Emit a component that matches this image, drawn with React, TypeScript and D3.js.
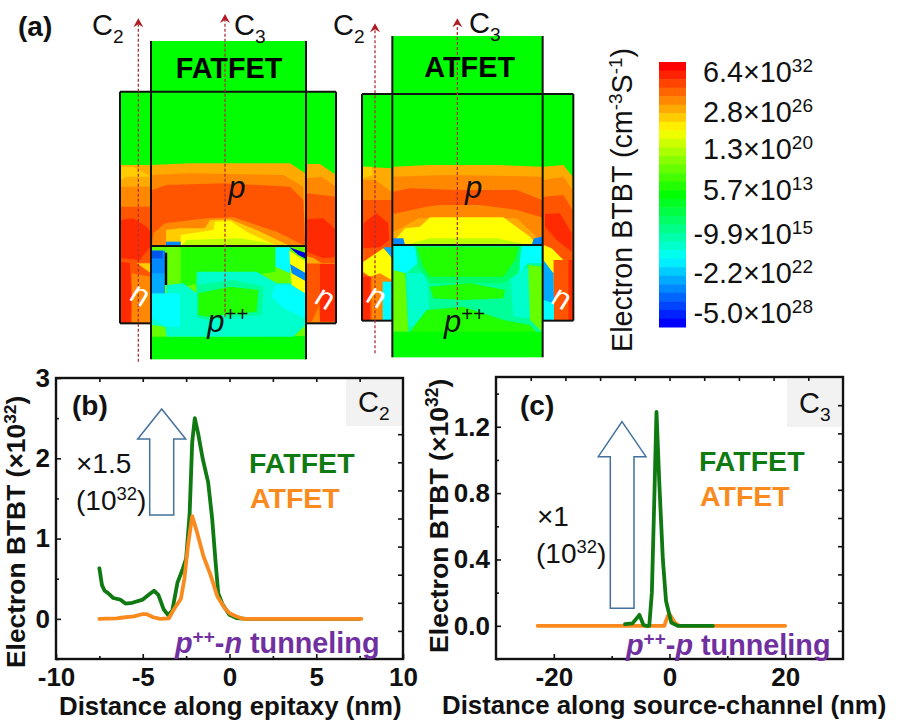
import { useEffect, useRef } from "react";
import * as d3 from "d3";

type Pt = [number, number];
type Part = { t: string; sup?: boolean; sub?: boolean; italic?: boolean };

// line cuts, x in nm, y in 1e32
const epitaxyFat: Pt[] = [[-7.5,0.63],[-7.35,0.42],[-7.2,0.35],[-7,0.32],[-6.7,0.26],[-6.3,0.24],[-6,0.19],[-5.6,0.2],[-5,0.24],[-4.6,0.31],[-4.35,0.35],[-4.1,0.3],[-3.8,0.12],[-3.55,0.05],[-3.3,0.1],[-3,0.45],[-2.7,0.62],[-2.5,0.75],[-2.3,1.3],[-2.15,2.2],[-2,2.5],[-1.8,2.3],[-1.55,2],[-1.23,1.7],[-1,1.25],[-0.8,0.7],[-0.65,0.32],[-0.4,0.18],[0,0.05],[0.4,0.01],[1,0],[7.5,0]];
const epitaxyAt: Pt[] = [[-7.5,0],[-6.5,0.005],[-6,0.02],[-5.5,0.03],[-5,0.06],[-4.8,0.06],[-4.4,0.02],[-4,0],[-3.5,0.005],[-3.2,0.12],[-2.8,0.25],[-2.6,0.5],[-2.4,0.9],[-2.15,1.28],[-1.9,1.1],[-1.5,0.78],[-1.1,0.55],[-0.7,0.28],[-0.3,0.14],[0,0.07],[0.4,0.03],[0.8,0],[7.6,0]];
const channelFat: Pt[] = [[-7.7,0.01],[-6.4,0.015],[-5.2,0.066],[-4.5,0.005],[-4,0],[-3.5,0],[-3.05,0.2],[-2.6,0.8],[-2.25,1.29],[-1.75,0.85],[-1.15,0.4],[-0.6,0.15],[0.3,0.02],[1.4,0],[7.5,0]];
const channelAt: Pt[] = [[-22.8,0],[-0.9,0],[-0.3,0.06],[0.1,0.065],[0.9,0.02],[1.7,0],[20,0]];

const colorbarLabels = [
  { m: "6.4", e: "32" },
  { m: "2.8", e: "26" },
  { m: "1.3", e: "20" },
  { m: "5.7", e: "13" },
  { m: "-9.9", e: "15" },
  { m: "-2.2", e: "22" },
  { m: "-5.0", e: "28" },
];
const colorbarBaselines = [82, 122, 159, 200, 244, 283, 323];

const C = {
  green: "#00ff00", lgreen: "#22ff00", lime: "#66ff00", ygreen: "#bbff00", yellow: "#ffff00",
  gold: "#ffcc00", amber: "#ffaa00", orange: "#ff8800", dorange: "#ff5500", red: "#ff2a00",
  mint: "#00ff66", spring: "#00ff99", teal: "#00ffcc", cyan: "#00ffff", sky: "#00aaff", azure: "#0088ff", blue: "#0055ee", navy: "#0000dd",
};

// contour patches, painted in order, in device units
const fatPatches: [string, Pt[]][] = [
  [C.amber, [[186,465],[300,460],[600,460],[646,490],[646,708],[186,708]]],
  [C.orange, [[186,495],[300,490],[580,495],[640,530],[646,708],[186,708]]],
  [C.dorange, [[186,540],[230,525],[400,520],[600,530],[640,570],[646,708],[186,708]]],
  [C.orange, [[186,708],[190,670],[225,640],[350,625],[430,622],[560,665],[646,708]]],
  [C.gold, [[228,708],[228,660],[270,655],[345,655],[360,630],[420,628],[500,660],[600,708]]],
  [C.yellow, [[272,708],[272,675],[370,660],[375,635],[420,632],[470,665],[560,708]]],
  [C.ygreen, [[275,708],[290,690],[450,685],[540,700],[560,708]]],
  [C.azure, [[228,695],[272,695],[272,708],[228,708]]],
  // lower part of the source
  [C.lime, [[186,710],[646,710],[646,978],[230,980],[186,980]]],
  [C.lgreen, [[272,712],[556,712],[556,785],[272,830]]],
  [C.teal, [[186,850],[230,850],[230,825],[280,820],[320,850],[320,785],[500,785],[560,820],[600,820],[646,850],[646,945],[610,980],[230,980],[225,950],[186,945]]],
  [C.spring, [[320,825],[430,810],[520,830],[515,915],[350,930],[320,920]]],
  [C.lgreen, [[325,850],[420,830],[505,840],[500,905],[350,920],[325,915]]],
  [C.cyan, [[186,850],[270,850],[270,950],[230,950],[186,925]]],
  [C.cyan, [[556,825],[600,825],[646,850],[646,925],[580,895],[545,860]]],
  [C.cyan, [[556,712],[600,712],[600,790],[556,770]]],
  [C.sky, [[186,785],[225,785],[225,850],[186,850]]],
  [C.azure, [[186,722],[225,722],[225,790],[186,790]]],
  [C.blue, [[186,722],[218,722],[218,745],[186,745]]],
  [C.yellow, [[598,722],[645,752],[645,850],[605,825],[600,760]]],
  [C.azure, [[600,762],[645,788],[645,812],[605,790]]],
  [C.navy, [[598,712],[645,728],[667,730],[650,748],[625,735]]],
  // left flank
  [C.amber, [[92,465],[183,465],[183,940],[92,940]]],
  [C.gold, [[92,470],[130,470],[183,500],[110,500],[92,510]]],
  [C.orange, [[92,530],[140,530],[183,530],[183,940],[92,940]]],
  [C.dorange, [[92,590],[183,590],[183,940],[92,940]]],
  [C.red, [[92,630],[130,625],[170,650],[183,665],[183,708],[150,750],[92,745]]],
  [C.gold, [[140,760],[183,760],[183,790]]],
  [C.orange, [[125,790],[183,800],[183,940],[125,940]]],
  [C.red, [[92,755],[120,760],[125,860],[122,940],[92,940]]],
  // right flank
  [C.amber, [[650,462],[690,462],[738,495],[738,940],[650,940]]],
  [C.orange, [[650,505],[695,500],[738,530],[738,940],[650,940]]],
  [C.dorange, [[650,550],[738,560],[738,940],[650,940]]],
  [C.red, [[650,628],[700,625],[738,660],[738,740],[700,745],[650,725]]],
  [C.amber, [[650,738],[672,745],[695,760],[650,760]]],
  [C.orange, [[650,760],[738,760],[738,940],[650,940]]],
  [C.red, [[685,762],[738,762],[738,935],[690,935]]],
  [C.dorange, [[650,762],[690,762],[690,880],[665,935],[650,935]]],
];

const atPatches: [string, Pt[]][] = [
  [C.amber, [[190,470],[300,465],[500,465],[636,470],[636,705],[190,705]]],
  [C.orange, [[190,500],[350,495],[636,500],[636,705],[190,705]]],
  [C.dorange, [[190,545],[240,535],[380,540],[560,540],[636,570],[636,622],[560,600],[450,585],[330,585],[290,590],[190,612]]],
  [C.amber, [[190,665],[220,650],[265,625],[560,625],[620,680],[636,705],[190,705]]],
  [C.yellow, [[195,690],[225,655],[270,650],[300,622],[520,622],[600,680],[620,705],[190,705]]],
  [C.ygreen, [[225,705],[300,685],[500,685],[600,705]]],
  [C.azure, [[190,685],[220,685],[225,705],[190,705]]],
  [C.azure, [[605,705],[612,685],[636,680],[636,705]]],
  // source
  [C.spring, [[190,708],[636,708],[636,968],[190,968]]],
  [C.teal, [[230,790],[290,790],[300,940],[235,950]]],
  [C.teal, [[540,790],[600,770],[600,925],[550,920]]],
  [C.lime, [[190,780],[225,785],[235,965],[190,965]]],
  [C.lime, [[595,765],[636,770],[636,965],[600,930]]],
  [C.cyan, [[190,708],[258,708],[262,760],[228,790],[190,780]]],
  [C.cyan, [[570,708],[636,708],[636,760],[590,760],[570,790]]],
  [C.mint, [[255,708],[575,708],[565,790],[520,820],[300,820],[265,770]]],
  [C.lgreen, [[262,712],[565,712],[555,750],[520,800],[300,800],[280,770]]],
  [C.lgreen, [[300,830],[420,820],[525,840],[520,865],[400,870],[310,865]]],
  [C.lgreen, [[290,900],[400,890],[520,930],[600,945],[620,968],[240,968],[255,945]]],
  [C.green, [[190,965],[636,965],[636,1040],[190,1040]]],
  // left flank
  [C.amber, [[98,470],[185,475],[185,930],[98,930]]],
  [C.gold, [[98,470],[125,470],[130,495],[98,505]]],
  [C.orange, [[98,510],[135,510],[185,545],[185,930],[98,930]]],
  [C.dorange, [[98,570],[185,570],[185,720],[100,760]]],
  [C.red, [[100,640],[140,610],[175,640],[178,690],[150,712],[100,715]]],
  [C.yellow, [[100,755],[160,715],[185,740],[185,810],[150,790],[120,800],[100,785]]],
  [C.sky, [[160,712],[186,712],[186,745]]],
  [C.dorange, [[98,790],[155,815],[155,930],[98,930]]],
  [C.orange, [[125,800],[155,815],[155,930],[125,930]]],
  [C.red, [[98,800],[122,800],[120,930],[98,930]]],
  [C.cyan, [[158,815],[185,815],[185,930],[158,930]]],
  // right flank
  [C.amber, [[640,470],[700,465],[728,500],[728,930],[640,930]]],
  [C.orange, [[640,510],[700,500],[728,540],[728,930],[640,930]]],
  [C.dorange, [[640,560],[700,555],[728,600],[728,750],[640,750]]],
  [C.red, [[645,612],[690,610],[725,670],[725,725],[680,690],[645,650]]],
  [C.yellow, [[640,705],[665,715],[700,750],[670,750],[670,790],[640,760]]],
  [C.sky, [[640,750],[670,790],[672,880],[640,880]]],
  [C.cyan, [[640,870],[672,880],[672,930],[640,930]]],
  [C.dorange, [[672,750],[728,750],[728,930],[672,930]]],
  [C.red, [[715,750],[728,750],[728,930],[715,930]]],
];

const FONT = "Liberation Sans";

function addText(g: any, x: number, y: number, parts: Part[], o: any = {}) {
  const size = o.size ?? 28;
  const text = g.append("text")
    .attr("font-family", FONT)
    .attr("font-size", size)
    .attr("font-weight", o.bold ? "bold" : "normal")
    .attr("fill", o.fill ?? "#111")
    .attr("text-anchor", o.anchor ?? "start")
    .attr("transform", `translate(${x},${y})${o.rotate ? ` rotate(${o.rotate})` : ""}`);
  let shift = 0;
  parts.forEach((p) => {
    const target = p.sup ? -size * 0.36 : p.sub ? size * 0.26 : 0;
    text.append("tspan")
      .attr("dy", target - shift)
      .attr("font-size", p.sup || p.sub ? size * 0.66 : size)
      .attr("font-style", p.italic ? "italic" : "normal")
      .text(p.t);
    shift = target;
  });
  return text;
}

function drawDevice(svg: any, name: string, left: number, patches: [string, Pt[]][], geo: any) {
  const x = d3.scaleLinear().domain([0, 240]).range([left, left + 80]);
  const y = d3.scaleLinear().domain([0, 360]).range([10, 130]);
  const g = svg.append("g");
  const path = d3.line<Pt>().x((d) => x(d[0])).y((d) => y(d[1]));

  // device body
  g.append("rect").attr("x", x(geo.x0)).attr("y", y(geo.y2)).attr("width", x(geo.x3) - x(geo.x0)).attr("height", y(geo.y3) - y(geo.y2)).attr("fill", C.green);
  g.append("rect").attr("x", x(geo.x1)).attr("y", y(geo.y0)).attr("width", x(geo.x2) - x(geo.x1)).attr("height", y(geo.y4) - y(geo.y0)).attr("fill", C.green);

  g.selectAll("path.patch").data(patches).enter().append("path")
    .attr("class", "patch")
    .attr("fill", (d: any) => d[0])
    .attr("d", (d: any) => path(d[1]) + "Z");

  if (geo.bar) {
    g.append("line").attr("x1", x(228)).attr("x2", x(228)).attr("y1", y(728)).attr("y2", y(825)).attr("stroke", "#000").attr("stroke-width", 2.4);
  }

  const lines: number[][] = [
    [geo.x1, geo.y0, geo.x1, geo.y4],
    [geo.x2, geo.y0, geo.x2, geo.y4],
    [geo.x0, geo.y2, geo.x3, geo.y2],
    [geo.x0, geo.y2, geo.x0, geo.y3],
    [geo.x3, geo.y2, geo.x3, geo.y3],
    [geo.x0, geo.y3, geo.x1, geo.y3],
    [geo.x2, geo.y3, geo.x3, geo.y3],
    [geo.x1, geo.ym, geo.x2, geo.ym],
  ];
  g.selectAll("line.box").data(lines).enter().append("line")
    .attr("class", "box")
    .attr("x1", (d: number[]) => x(d[0])).attr("y1", (d: number[]) => y(d[1]))
    .attr("x2", (d: number[]) => x(d[2])).attr("y2", (d: number[]) => y(d[3]))
    .attr("stroke", "#111").attr("stroke-width", 2);

  // cut lines
  geo.cuts.forEach((c: number[]) => {
    g.append("line").attr("x1", x(c[0])).attr("x2", x(c[0])).attr("y1", y(c[2])).attr("y2", y(c[1]) + 6)
      .attr("stroke", "#b0303a").attr("stroke-width", 1.3).attr("stroke-dasharray", "3 2");
    g.append("path").attr("fill", "#b01c24")
      .attr("d", `M${x(c[0])},${y(c[1])}L${x(c[0]) + 5},${y(c[1]) + 9}L${x(c[0])},${y(c[1]) + 6}L${x(c[0]) - 5},${y(c[1]) + 9}Z`);
  });

  addText(g, x(geo.title), y(geo.titleY), [{ t: name }], { bold: true, size: 28.8, fill: "#000" });
  addText(g, x(geo.pX), y(565), [{ t: "p", italic: true }], { size: 31 });
  addText(g, x(geo.ppX), y(965), [{ t: "p", italic: true }, { t: "++", sup: true }], { size: 31 });
  geo.ns.forEach((n: number[]) => {
    addText(g, x(n[0]), y(n[1]), [{ t: "n" }], { size: 31, fill: "#fff", anchor: "middle", rotate: 32 });
  });
}

function drawPanel(svg: any, o: any) {
  const { frame } = o;
  const x = d3.scaleLinear().domain(o.xDomain).range([frame.left, frame.right]);
  const y = d3.scaleLinear().domain(o.yDomain).range([frame.bottom, frame.top]);
  const w = frame.right - frame.left;
  const h = frame.bottom - frame.top;
  const g = svg.append("g");

  g.append("rect").attr("x", o.box[0]).attr("y", o.box[1]).attr("width", o.box[2] - o.box[0]).attr("height", o.box[3] - o.box[1]).attr("fill", "#f2f2f2");

  const style = (a: any) => {
    a.select(".domain").remove();
    a.selectAll("line").attr("stroke", "#111").attr("stroke-width", 1.6);
    a.selectAll("text").attr("font-family", FONT).attr("font-weight", "bold").attr("font-size", 26).attr("fill", "#111");
  };

  g.append("g").attr("transform", `translate(0,${frame.bottom})`)
    .call(d3.axisBottom(x).tickValues(o.xMinor).tickSize(-3).tickFormat(() => "")).call(style);
  g.append("g").attr("transform", `translate(0,${frame.bottom})`)
    .call(d3.axisBottom(x).tickValues(o.xTicks).tickSize(-5).tickPadding(9).tickFormat((d: any) => String(d))).call(style);
  g.append("g").attr("transform", `translate(${frame.left},0)`)
    .call(d3.axisLeft(y).tickValues(o.yMinor).tickSize(-3).tickFormat(() => "")).call(style);
  g.append("g").attr("transform", `translate(${frame.left},0)`)
    .call(d3.axisLeft(y).tickValues(o.yTicks).tickSize(-5).tickPadding(6).tickFormat((d: any) => o.yFormat(d))).call(style);

  // the opposite edges carry their own tick spacing
  const top = d3.scaleLinear().domain([0, 10]).range([frame.left, frame.right]);
  const right = d3.scaleLinear().domain([0, 10]).range([frame.bottom, frame.top]);
  g.append("g").attr("transform", `translate(0,${frame.top})`)
    .call(d3.axisTop(o.topScale ? x : top).tickValues(o.topTicks).tickSize(-4).tickFormat(() => "")).call(style);
  g.append("g").attr("transform", `translate(${frame.right},0)`)
    .call(d3.axisRight(right).tickValues(o.rightTicks).tickSize(-5).tickFormat(() => "")).call(style);

  g.append("rect").attr("x", frame.left).attr("y", frame.top).attr("width", w).attr("height", h)
    .attr("fill", "none").attr("stroke", "#111").attr("stroke-width", 2.4);

  const line = d3.line<Pt>().x((d) => x(d[0])).y((d) => y(d[1]));
  o.series.forEach((s: any) => {
    g.append("path").attr("d", line(s.values)).attr("fill", "none").attr("stroke", s.color)
      .attr("stroke-width", 3.8).attr("stroke-linejoin", "round").attr("stroke-linecap", "round");
  });

  const a = o.arrow;
  g.append("path").attr("fill", "none").attr("stroke", "#41719c").attr("stroke-width", 1.5)
    .attr("d", `M${a.tip},${a.top}L${a.wingR},${a.wingY}L${a.shaftR},${a.wingY}L${a.shaftR},${a.bottom}L${a.shaftL},${a.bottom}L${a.shaftL},${a.wingY}L${a.wingL},${a.wingY}Z`);
}

export default function App() {
  const svgRef = useRef<SVGSVGElement>(null);

  useEffect(() => {
    const svg = d3.select(svgRef.current);
    svg.selectAll("*").remove();

    drawDevice(svg, "FATFET", 90, fatPatches, {
      x0: 90, x1: 183, x2: 648, x3: 738, y0: 93, y2: 245, ym: 708, y3: 940, y4: 1048,
      cuts: [[145, 25, 1055], [405, 12, 920]], bar: true,
      title: 257, titleY: 205, pX: 415, ppX: 352, ns: [[135, 880], [690, 890]],
    });
    drawDevice(svg, "ATFET", 330, atPatches, {
      x0: 96, x1: 187, x2: 638, x3: 730, y0: 78, y2: 252, ym: 705, y3: 932, y4: 1042,
      cuts: [[135, 40, 1030], [382, 25, 900]],
      title: 283, titleY: 200, pX: 405, ppX: 342, ns: [[125, 885], [680, 890]],
    });

    addText(svg, 18, 36, [{ t: "(a)" }], { bold: true });
    addText(svg, 92, 35, [{ t: "C" }, { t: "2", sub: true }], { size: 29 });
    addText(svg, 234, 35, [{ t: "C" }, { t: "3", sub: true }], { size: 29 });
    addText(svg, 333, 35, [{ t: "C" }, { t: "2", sub: true }], { size: 29 });
    addText(svg, 469, 33, [{ t: "C" }, { t: "3", sub: true }], { size: 29 });

    // colour bar
    const levels = d3.range(0, 31);
    const band = d3.scaleBand<number>().domain(levels).range([62, 327]);
    const hue = d3.scaleLinear().domain([0, 30]).range([0, 240]);
    svg.append("g").selectAll("rect").data(levels).enter().append("rect")
      .attr("x", 659).attr("width", 27)
      .attr("y", (d) => band(d) as number)
      .attr("height", band.bandwidth() + 0.5)
      .attr("fill", (d) => d3.hsl(hue(d), 1, 0.5).formatHex());
    colorbarLabels.forEach((l, i) => {
      addText(svg, 813, colorbarBaselines[i], [{ t: `${l.m}×10` }, { t: l.e, sup: true }], { size: 28.8, anchor: "end" });
    });
    addText(svg, 632, 352, [{ t: "Electron BTBT (cm" }, { t: "-3", sup: true }, { t: "S" }, { t: "-1", sup: true }, { t: ")" }], { size: 28.7, rotate: -90 });

    drawPanel(svg, {
      frame: { left: 56, right: 403, top: 378, bottom: 659 },
      xDomain: [-10, 10], yDomain: [-0.5, 3],
      xTicks: [-10, -5, 0, 5, 10], xMinor: [-7.5, -2.5, 2.5, 7.5],
      yTicks: [0, 1, 2, 3], yMinor: [-0.5, 0.5, 1.5, 2.5],
      yFormat: (d: number) => d3.format("d")(d),
      topScale: true, topTicks: [-7.5, -5, -2.5, 0, 2.5, 5, 7.5], rightTicks: [1, 2, 3, 4, 5, 6, 7, 8],
      box: [346, 379, 402, 426],
      series: [{ values: epitaxyFat, color: "#0f7a12" }, { values: epitaxyAt, color: "#fb8a1e" }],
      arrow: { tip: 161.7, top: 409, wingL: 137.7, wingR: 185.7, wingY: 439, shaftL: 149.7, shaftR: 173.7, bottom: 515 },
    });
    drawPanel(svg, {
      frame: { left: 496, right: 843, top: 377, bottom: 659 },
      xDomain: [-30, 30], yDomain: [-0.2, 1.5],
      xTicks: [-20, 0, 20], xMinor: [-10, 10],
      yTicks: [0, 0.4, 0.8, 1.2], yMinor: [-0.2, 0.2, 0.6, 1, 1.4],
      yFormat: (d: number) => d3.format(".1f")(d),
      topTicks: [1, 2, 3, 4, 5, 6, 7, 8, 9], rightTicks: [1, 2, 3, 4, 5, 6, 7, 8, 9],
      box: [787, 379, 841, 427],
      series: [{ values: channelAt, color: "#fb8a1e" }, { values: channelFat, color: "#0f7a12" }],
      arrow: { tip: 622, top: 421.7, wingL: 598.3, wingR: 646, wingY: 456.7, shaftL: 610.3, shaftR: 634, bottom: 608.3 },
    });

    // panel (b) text
    addText(svg, 72, 415, [{ t: "(b)" }], { bold: true });
    addText(svg, 358, 412, [{ t: "C" }, { t: "2", sub: true }], { size: 29 });
    addText(svg, 76, 473, [{ t: "×1.5" }]);
    addText(svg, 76, 510, [{ t: "(10" }, { t: "32", sup: true }, { t: ")" }]);
    addText(svg, 249, 473, [{ t: "FATFET" }], { bold: true, size: 28.5, fill: "#0f7a12" });
    addText(svg, 250, 508, [{ t: "ATFET" }], { bold: true, size: 28.5, fill: "#fb8a1e" });
    addText(svg, 175, 653, [{ t: "p", italic: true }, { t: "++", sup: true }, { t: "-" }, { t: "n", italic: true }, { t: " tunneling" }], { bold: true, size: 28.8, fill: "#7030a0" });
    addText(svg, 59, 715, [{ t: "Distance along epitaxy (nm)" }], { bold: true, size: 25.8 });
    addText(svg, 25, 668, [{ t: "Electron BTBT (×10" }, { t: "32", sup: true }, { t: ")" }], { bold: true, size: 26.4, rotate: -90 });

    // panel (c) text
    addText(svg, 520, 415, [{ t: "(c)" }], { bold: true });
    addText(svg, 799, 413, [{ t: "C" }, { t: "3", sub: true }], { size: 29 });
    addText(svg, 537, 526, [{ t: "×1" }]);
    addText(svg, 536, 563, [{ t: "(10" }, { t: "32", sup: true }, { t: ")" }]);
    addText(svg, 699, 471, [{ t: "FATFET" }], { bold: true, size: 28.5, fill: "#0f7a12" });
    addText(svg, 700, 506, [{ t: "ATFET" }], { bold: true, size: 28.5, fill: "#fb8a1e" });
    addText(svg, 626, 655, [{ t: "p", italic: true }, { t: "++", sup: true }, { t: "-" }, { t: "p", italic: true }, { t: " tunneling" }], { bold: true, size: 28.8, fill: "#7030a0" });
    addText(svg, 442, 714, [{ t: "Distance along source-channel (nm)" }], { bold: true, size: 25.8 });
    addText(svg, 448, 653, [{ t: "Electron BTBT (×10" }, { t: "32", sup: true }, { t: ")" }], { bold: true, size: 26.6, rotate: -90 });
  }, []);

  return (
    <svg
      ref={svgRef}
      width={904}
      height={722}
      style={{ position: "absolute", left: 0, top: 0, background: "#fff" }}
    />
  );
}
